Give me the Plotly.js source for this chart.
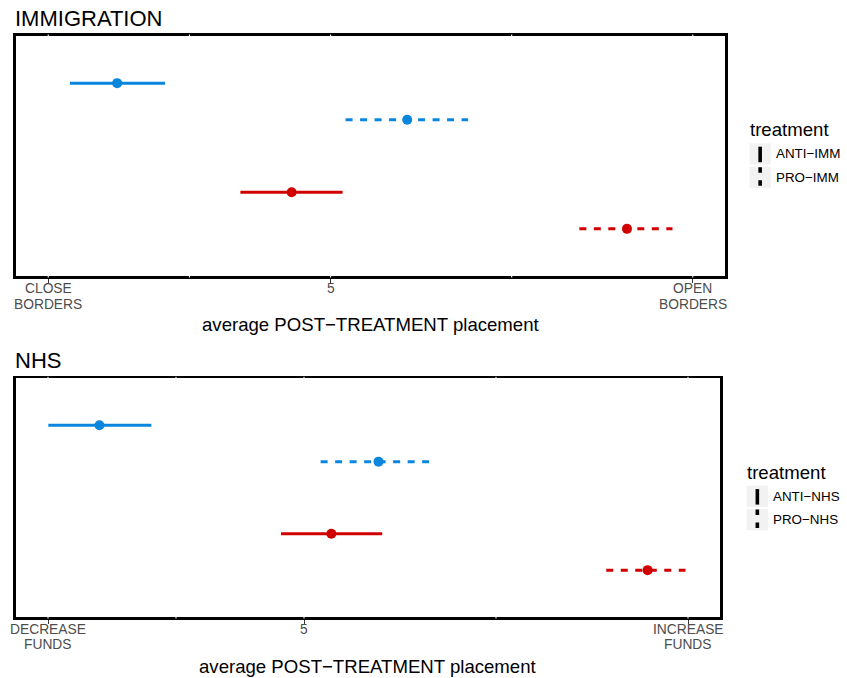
<!DOCTYPE html>
<html>
<head>
<meta charset="utf-8">
<script src="https://cdn.plot.ly/plotly-3.0.1.min.js"></script>
<style>html,body{margin:0;padding:0;background:#fff;}#chart{width:847px;height:678px;}</style>
</head>
<body>
<div id="chart"></div>
<script>
// ---------------- data ----------------
// rows: [Group A / ANTI, Group A / PRO, Group B / ANTI, Group B / PRO]
const respondentGroups = ['Group A', 'Group A', 'Group B', 'Group B'];
const rowTreatment = ['ANTI', 'PRO', 'ANTI', 'PRO'];

const immMean = [1.976, 6.085, 4.448, 9.198];
const immLow  = [1.307, 5.212, 3.722, 8.523];
const immHigh = [2.655, 6.948, 5.170, 9.843];
const immTickVals = [1, 5, 10.13];
const immTickText = ['CLOSE\nBORDERS', '5', 'OPEN\nBORDERS'];
const immLegendLabels = ['ANTI−IMM', 'PRO−IMM'];

const nhsMean = [1.804, 6.164, 5.427, 10.369];
const nhsLow  = [1.005, 5.260, 4.641, 9.723];
const nhsHigh = [2.615, 7.064, 6.222, 10.961];
const nhsTickVals = [1, 5, 11];
const nhsTickText = ['DECREASE\nFUNDS', '5', 'INCREASE\nFUNDS'];
const nhsLegendLabels = ['ANTI−NHS', 'PRO−NHS'];

const panelTitles = ['IMMIGRATION', 'NHS'];
const xTitle = 'average POST−TREATMENT placement';
const legendTitle = 'treatment';

// ---------------- styling / layout ----------------
const W = 847, H = 678;
const FONT = 'Liberation Sans, Arial, Helvetica, sans-serif';
const groupColor = {'Group A': '#0A86DF', 'Group B': '#D10000'};
const groupPos = {'Group A': 2, 'Group B': 1};
const dodge = {'ANTI': 0.168, 'PRO': -0.168};
const dashFor = {'ANTI': 'solid', 'PRO': '7px,7.5px'};
const px = v => v / W;
const py = v => 1 - v / H;
const TICK_FS = 13.8, TICK_PITCH = 15.6;

const panels = [
  {mean: immMean, low: immLow, high: immHigh, tv: immTickVals, tt: immTickText, leg: immLegendLabels,
   title: panelTitles[0], box: [16, 725, 36, 276], titleY: 18.5, tickY: 288.6, axTitleY: 324.5,
   legX: 749.5, legTop: 143.3, legTitleY: 129.5, legLabelX: 775},
  {mean: nhsMean, low: nhsLow, high: nhsHigh, tv: nhsTickVals, tt: nhsTickText, leg: nhsLegendLabels,
   title: panelTitles[1], box: [16, 720, 378.3, 617], titleY: 360.7, tickY: 629.0, axTitleY: 666,
   legX: 746.7, legTop: 485.7, legTitleY: 472.7, legLabelX: 772.3}
];

const traces = [];
const shapes = [];
const annotations = [];
const layout = {
  width: W, height: H, margin: {l: 0, r: 0, t: 0, b: 0},
  paper_bgcolor: '#fff', plot_bgcolor: '#fff', showlegend: false,
  font: {family: FONT, color: '#000'}
};

panels.forEach((p, i) => {
  const sfx = i === 0 ? '' : String(i + 1);
  const xa = 'x' + sfx, ya = 'y' + sfx;
  const lo = p.tv[0], hi = p.tv[p.tv.length - 1];
  const ext = 0.05 * (hi - lo);
  const axisCommon = {showgrid: false, zeroline: false, showline: true, mirror: true,
    linecolor: '#000', linewidth: 2.6, fixedrange: true};
  layout['xaxis' + sfx] = Object.assign({}, axisCommon, {
    anchor: ya, domain: [px(p.box[0]), px(p.box[1])], range: [lo - ext, hi + ext],
    tickmode: 'array', tickvals: p.tv, ticks: 'outside', ticklen: 4, tickwidth: 1,
    tickcolor: '#333333', showticklabels: false
  });
  layout['yaxis' + sfx] = Object.assign({}, axisCommon, {
    anchor: xa, domain: [py(p.box[3]), py(p.box[2])], range: [0.4, 2.6],
    showticklabels: false, ticks: ''
  });

  // error-bar lines and points
  for (let r = 0; r < p.mean.length; r++) {
    const g = respondentGroups[r], t = rowTreatment[r];
    const yv = groupPos[g] + dodge[t];
    traces.push({type: 'scatter', mode: 'lines', xaxis: xa, yaxis: ya,
      x: [p.low[r], p.high[r]], y: [yv, yv],
      line: {color: groupColor[g], width: 3, dash: dashFor[t]}, hoverinfo: 'skip'});
    traces.push({type: 'scatter', mode: 'markers', xaxis: xa, yaxis: ya,
      x: [p.mean[r]], y: [yv], name: g + ' ' + t,
      marker: {color: groupColor[g], size: 10, line: {width: 0}}});
  }

  // faint grid marks through the panel border (major + minor)
  const grid = p.tv.slice();
  for (let k = 0; k < p.tv.length - 1; k++) grid.push((p.tv[k] + p.tv[k + 1]) / 2);
  grid.forEach(gv => {
    [[p.box[2] - 1.6, p.box[2] + 1.6], [p.box[3] - 1.6, p.box[3] + 1.6]].forEach(seg => {
      shapes.push({type: 'line', layer: 'above', xref: xa, yref: 'paper',
        x0: gv, x1: gv, y0: py(seg[0]), y1: py(seg[1]),
        line: {color: '#ffffff', width: 1.1}});
    });
  });

  // tick labels (one annotation per line)
  p.tv.forEach((tv, k) => {
    p.tt[k].split('\n').forEach((line, li) => {
      annotations.push({xref: xa, yref: 'paper', x: tv, y: py(p.tickY + li * TICK_PITCH),
        xanchor: 'center', yanchor: 'middle', showarrow: false, text: line,
        borderpad: 0, font: {family: FONT, size: TICK_FS, color: '#4D4D4D'}});
    });
  });

  // panel title
  annotations.push({xref: 'paper', yref: 'paper', x: px(13), y: py(p.titleY), xanchor: 'left',
    yanchor: 'middle', showarrow: false, text: p.title, font: {family: FONT, size: 22, color: '#000'}});
  // axis title
  annotations.push({xref: 'paper', yref: 'paper', x: px((p.box[0] + p.box[1]) / 2), y: py(p.axTitleY),
    xanchor: 'center', yanchor: 'middle', showarrow: false, text: xTitle,
    font: {family: FONT, size: 18.6, color: '#000'}});

  // legend (drawn manually: vertical line keys)
  annotations.push({xref: 'paper', yref: 'paper', x: px(p.legX - 2), y: py(p.legTitleY), xanchor: 'left',
    yanchor: 'middle', showarrow: false, text: legendTitle, font: {family: FONT, size: 18.6, color: '#000'}});
  const keyW = 21.3, keyH = 21.2, keyGap = 2.2;
  ['ANTI', 'PRO'].forEach((t, k) => {
    const top = p.legTop + k * (keyH + keyGap), bot = top + keyH;
    const cx = p.legX + keyW / 2;
    shapes.push({type: 'rect', xref: 'paper', yref: 'paper', x0: px(p.legX), x1: px(p.legX + keyW),
      y0: py(bot), y1: py(top), fillcolor: '#F2F2F2', line: {width: 0}, layer: 'above'});
    shapes.push({type: 'line', xref: 'paper', yref: 'paper', x0: px(cx), x1: px(cx),
      y0: py(top + (t === 'ANTI' ? 3.4 : 0.5)), y1: py(bot - (t === 'ANTI' ? 2.3 : 1.5)),
      line: {color: '#000', width: 3.6, dash: t === 'ANTI' ? 'solid' : '5.5px,7.5px'}, layer: 'above'});
    annotations.push({xref: 'paper', yref: 'paper', x: px(p.legLabelX - 1.5), y: py((top + bot) / 2),
      xanchor: 'left', yanchor: 'middle', showarrow: false, text: p.leg[k],
      font: {family: FONT, size: 13.4, color: '#000'}});
  });
});

layout.shapes = shapes;
layout.annotations = annotations;
Plotly.newPlot('chart', traces, layout, {staticPlot: true, displayModeBar: false});
</script>
</body>
</html>
